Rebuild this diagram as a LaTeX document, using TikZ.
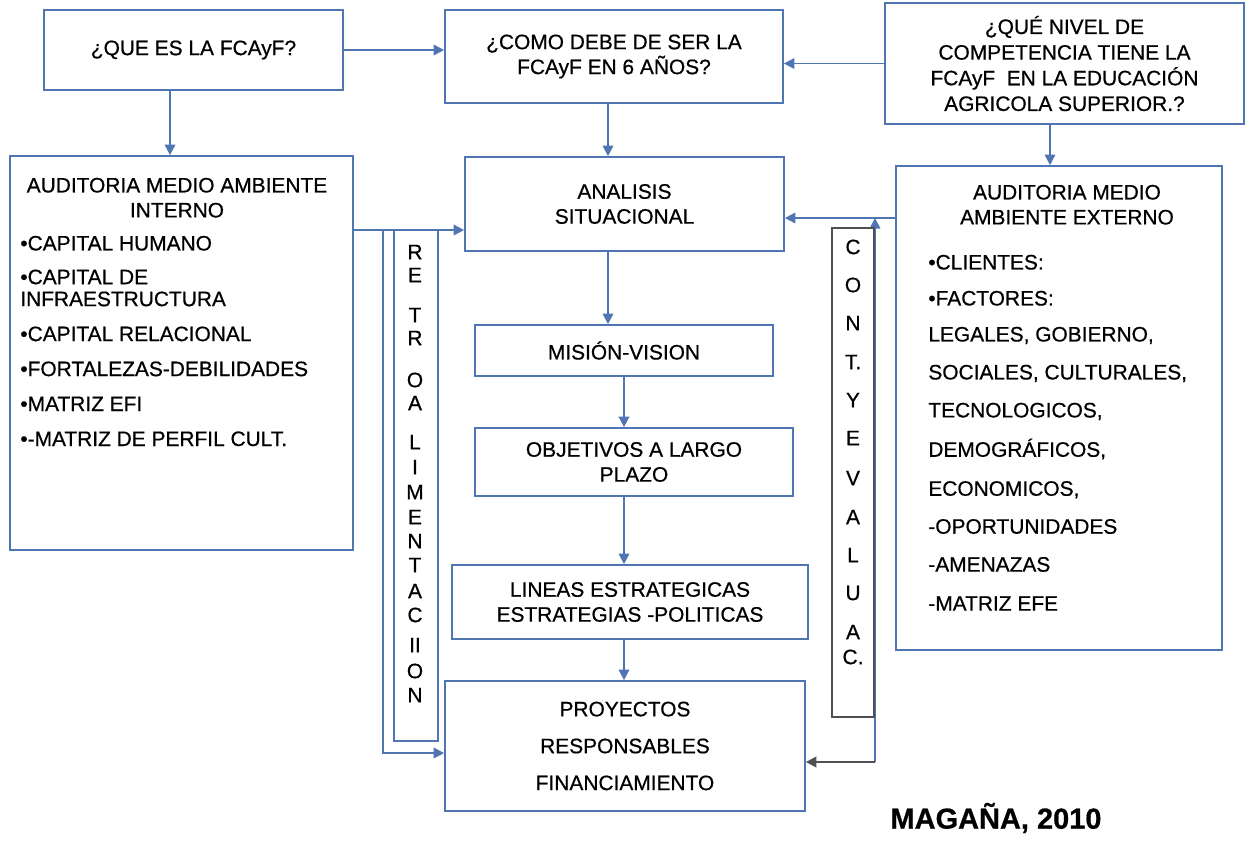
\documentclass[tikz,border=0pt]{standalone}
\usepackage{fontspec}
\setmainfont{Liberation Sans}[FakeBold=0.6]
\usetikzlibrary{arrows.meta}
\definecolor{boxblue}{RGB}{79,118,178}
\definecolor{contgray}{RGB}{80,80,80}

\begin{document}
\begin{tikzpicture}[x=0.02cm, y=-0.02cm,
    every node/.style={font=\fontsize{11.9}{14.2}\selectfont, text=black},
    box/.style={draw=boxblue, line width=1pt, fill=white, align=center, inner sep=0pt},
    txt/.style={inner sep=0pt},
    arr/.style={draw=boxblue, line width=1pt, -{Triangle[length=6pt,width=6pt]}},
    garr/.style={draw=contgray, line width=1.3pt, -{Triangle[length=6pt,width=6pt]}}]
      \useasboundingbox (0,0) rectangle (1258,840);

      % preguntas
      \node[box, minimum width=5.98cm, minimum height=1.6cm] (que) at (193.5,50) {¿QUE ES LA FCAyF?};
      \node[box, minimum width=6.76cm, minimum height=1.86cm] (como) at (614,56.5) {¿COMO DEBE DE SER LA\\FCAyF EN 6 AÑOS?};
      \node[box, minimum width=7.18cm, minimum height=2.42cm] (nivel) at (1064.5,63.5) {¿QUÉ NIVEL DE\\[0.4pt]COMPETENCIA TIENE LA\\[0.4pt]FCAyF~ EN LA EDUCACIÓN\\[0.4pt]AGRICOLA SUPERIOR.?};

      % auditorias
      \node[box, minimum width=6.86cm, minimum height=7.88cm] (interno) at (181.5,353) {};
      \node[txt, anchor=north, align=center] (internot) at (177,177.5) {AUDITORIA MEDIO AMBIENTE\\INTERNO};
      \node[txt, anchor=north west, align=left] (internol) at (20,235.5) {•CAPITAL HUMANO\\[5pt]•CAPITAL DE\\[-1.7pt]INFRAESTRUCTURA\\[5.7pt]•CAPITAL RELACIONAL\\[5.7pt]•FORTALEZAS-DEBILIDADES\\[5.7pt]•MATRIZ EFI\\[5.7pt]•-MATRIZ DE PERFIL CULT.};

      \node[box, minimum width=6.52cm, minimum height=9.68cm] (externo) at (1059,408) {};
      \node[txt, anchor=north, align=center] (externot) at (1067,184.5) {AUDITORIA MEDIO\\AMBIENTE EXTERNO};
      \node[txt, anchor=north west, align=left] (externol) at (928,254.5) {•CLIENTES:\\[6.3pt]•FACTORES:\\[6.3pt]LEGALES, GOBIERNO,\\[7.4pt]SOCIALES, CULTURALES,\\[7.4pt]TECNOLOGICOS,\\[8.2pt]DEMOGRÁFICOS,\\[8pt]ECONOMICOS,\\[7.4pt]-OPORTUNIDADES\\[7.4pt]-AMENAZAS\\[8pt]-MATRIZ EFE};

      % cadena central
      \node[box, minimum width=6.38cm, minimum height=1.88cm] (analisis) at (624.5,204) {ANALISIS\\SITUACIONAL};
      \node[box, minimum width=5.96cm, minimum height=1.02cm] (mision) at (624,350.5) {MISIÓN-VISION};
      \node[box, minimum width=6.36cm, minimum height=1.36cm] (objetivos) at (634,462) {OBJETIVOS A LARGO\\PLAZO};
      \node[box, minimum width=7.12cm, minimum height=1.48cm] (lineas) at (630,602) {LINEAS ESTRATEGICAS\\ESTRATEGIAS -POLITICAS};
      \node[box, minimum width=7.2cm, minimum height=2.6cm] (proyectos) at (625,746) {PROYECTOS\\[6.8pt]RESPONSABLES\\[6.8pt]FINANCIAMIENTO};

      % retroalimentacion
      \node[box, minimum width=0.88cm, minimum height=10.22cm] (retro) at (416,485.5) {};
      \foreach \l/\y [count=\i] in {R/252,E/275,T/315,R/338,O/380,A/403,L/442,I/467,M/492,E/517,N/541,T/565,A/591,C/615,II/645,O/671,N/695}
        \node (retro\i) at (415,\y) {\l};

      \coordinate (fb) at (383,230);
      \coordinate (fbend) at (383,753);
      \draw[arr] (interno.east |- fb) -- (analisis.west |- fb);
      \draw[arr] (fb) -- (fbend) -- (proyectos.west |- fbend);

      % control y evaluacion
      \coordinate (ae) at (896,218);
      \coordinate (contbase) at (875,762);
      \draw[arr] (externo.west |- ae) -- (analisis.east |- ae);
      \draw[arr] (contbase) -- (contbase |- ae);
      \node[draw=contgray, line width=1pt, fill=white, inner sep=0pt, minimum width=0.84cm, minimum height=9.78cm] (cont) at (853,472.5) {};
      \foreach \l/\y [count=\i] in {C/247,O/285,N/323,T./362,Y/400,E/438,V/478,A/517,L/555,U/593,A/632,C./657}
        \node (cont\i) at (853,\y) {\l};
      \draw[garr] (contbase) -- (proyectos.east |- contbase);

      % flechas
      \draw[arr] (que.east) -- (como.west |- que.east);
      \draw[arr] (nivel.west) -- (como.east |- nivel.west);
      \draw[arr] ([xshift=-0.47cm]que.south) -- ([xshift=-0.47cm]que.south |- interno.north);
      \draw[arr] ([xshift=-0.12cm]como.south) -- ([xshift=-0.12cm]como.south |- analisis.north);
      \draw[arr] ([xshift=-0.18cm]externo.north |- nivel.south) -- ([xshift=-0.18cm]externo.north);
      \draw[arr] ([xshift=-0.33cm]analisis.south) -- ([xshift=-0.33cm]analisis.south |- mision.north);
      \draw[arr] (mision.south) -- (objetivos.north -| mision.south);
      \draw[arr] (objetivos.south -| mision.south) -- (lineas.north -| mision.south);
      \draw[arr] (lineas.south -| mision.south) -- (proyectos.north -| mision.south);

      \node[font=\fontsize{16.5}{20}\selectfont\bfseries] (autor) at (996,818) {MAGAÑA, 2010};
\end{tikzpicture}
\end{document}
